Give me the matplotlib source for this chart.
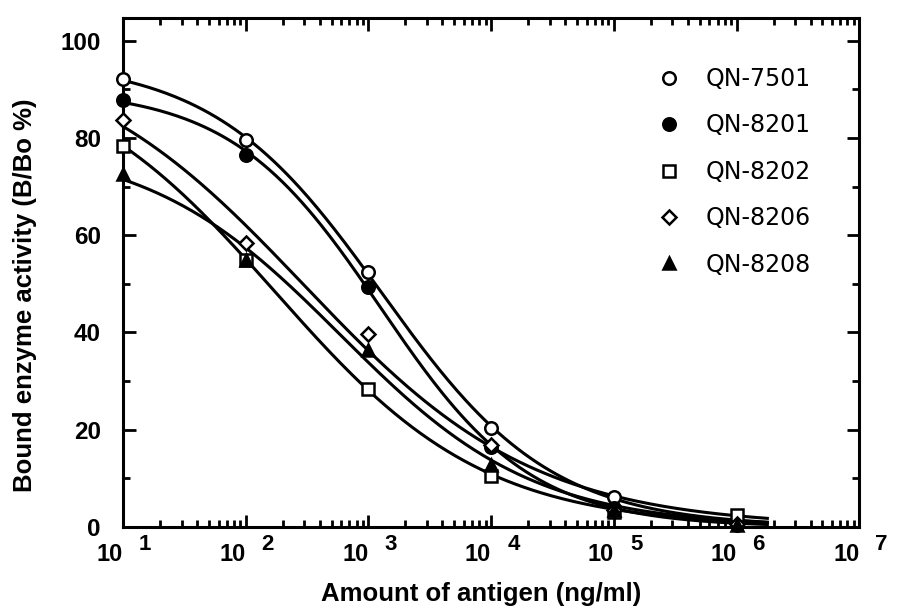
import matplotlib
matplotlib.use("Agg")
import matplotlib.pyplot as plt
import numpy as np
from matplotlib.ticker import LogLocator, MultipleLocator, NullFormatter

# données
conc = [1e1, 1e2, 1e3, 1e4, 1e5, 1e6]
qn7501 = [92.1, 79.6, 52.4, 20.3, 6.2, 1.0]
qn8201 = [87.8, 76.4, 49.4, 16.5, 4.0, 0.5]
qn8202 = [78.4, 55.0, 28.4, 10.5, 3.0, 2.5]
qn8206 = [83.7, 58.5, 39.7, 16.8, 3.5, 0.6]
qn8208 = [72.5, 55.0, 36.3, 12.8, 3.5, 0.5]
labels = ['QN-7501', 'QN-8201', 'QN-8202', 'QN-8206', 'QN-8208']
decades = [1, 2, 3, 4, 5, 6, 7]

series = [qn7501, qn8201, qn8202, qn8206, qn8208]
styles = [dict(marker='o', mfc='white', ms=9),
          dict(marker='o', mfc='black', ms=9),
          dict(marker='s', mfc='white', ms=8),
          dict(marker='D', mfc='white', ms=7),
          dict(marker='^', mfc='black', ms=9)]


# ajustement logistique (bas = 0) : recherche sur grille, haut par moindres carrés
def fit_logistic(lx, y):
    lx = np.asarray(lx)
    y = np.asarray(y)
    cs = np.linspace(1.5, 4.5, 301)[:, None, None]
    bs = np.linspace(0.3, 2.0, 171)[None, :, None]
    f = 1.0 / (1.0 + 10 ** (bs * (lx - cs)))
    top = (f * y).sum(-1) / (f * f).sum(-1)
    res = ((top[..., None] * f - y) ** 2).sum(-1)
    i, j = np.unravel_index(np.argmin(res), res.shape)
    return top[i, j], cs[i, 0, 0], bs[0, j, 0]


fig = plt.figure(figsize=(8.98, 6.10), dpi=100)
ax = fig.add_axes([0.137, 0.136, 0.820, 0.834])

logx = np.log10(conc)
xs = np.linspace(1.0, 6.25, 300)
for y in series:
    top, c, b = fit_logistic(logx, y)
    ys = top / (1.0 + 10 ** (b * (xs - c)))
    ax.plot(10 ** xs, ys, color='black', lw=2.2, zorder=2)

for y, lab, st in zip(series, labels, styles):
    ax.plot(conc, y, ls='none', mec='black', mew=1.8, label=lab,
            zorder=3, clip_on=False, **st)

ax.set_xscale('log')
ax.set_xlim(1e1, 1e7)
ax.set_ylim(0, 104.6)

for s in ax.spines.values():
    s.set_linewidth(2.2)

ax.xaxis.set_major_locator(LogLocator(base=10, numticks=10))
ax.xaxis.set_minor_locator(LogLocator(base=10, subs=np.arange(2, 10), numticks=100))
ax.xaxis.set_major_formatter(NullFormatter())
ax.xaxis.set_minor_formatter(NullFormatter())
ax.yaxis.set_major_locator(MultipleLocator(20))
ax.yaxis.set_minor_locator(MultipleLocator(10))

ax.tick_params(which='both', direction='in', top=True, right=True, width=2)
ax.tick_params(which='major', length=9)
ax.tick_params(which='minor', length=5)
ax.tick_params(axis='y', labelsize=17.5, pad=16)
for t in ax.get_yticklabels():
    t.set_fontfamily('Liberation Sans')
    t.set_fontweight('bold')

# étiquettes 10^n
trans = ax.get_xaxis_transform()
for d in decades:
    ax.text(10 ** d, -0.053, '10', transform=trans, ha='right', va='center',
            fontsize=17, fontweight='bold', family='Liberation Sans')
    ax.text(10 ** d * 10 ** 0.13, -0.035, str(d), transform=trans, ha='left',
            va='center', fontsize=16, fontweight='bold', family='Liberation Sans')

ax.set_xlabel('Amount of antigen (ng/ml)', fontsize=18.5, fontweight='bold',
              family='Liberation Sans')
ax.xaxis.set_label_coords(0.486, -0.108)
ax.set_ylabel('Bound enzyme activity (B/Bo %)', fontsize=18.5, fontweight='bold',
              family='Liberation Sans')
ax.yaxis.set_label_coords(-0.117, 0.456)

leg = ax.legend(loc='upper left', bbox_to_anchor=(0.696, 0.923), frameon=False,
                labelspacing=0.95, handletextpad=0.57, borderaxespad=0,
                prop={'family': 'DejaVu Sans', 'size': 17})

fig.savefig('out.png', dpi=100)
